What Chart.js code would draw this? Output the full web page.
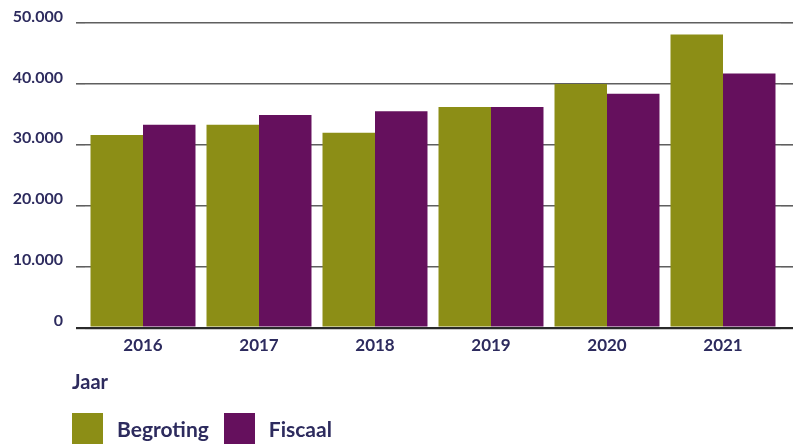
<!DOCTYPE html>
<html>
<head>
<meta charset="utf-8">
<title>Begroting en Fiscaal per jaar</title>
<script src="https://cdn.jsdelivr.net/npm/chart.js@4.4.1/dist/chart.umd.min.js"></script>
<style>
  html, body { margin: 0; padding: 0; background: #fff; overflow: hidden; }
  #wrap { position: relative; width: 800px; height: 444px; }
  #jaar { position: absolute; left: 72px; top: 369px; font: bold 20px Lato, sans-serif; color: #2d2b5e; }
  #legend { position: absolute; left: 72px; top: 413px; display: flex; align-items: center; }
  .item { display: flex; align-items: center; margin-right: 15px; }
  .swatch { width: 31px; height: 31px; margin-right: 14px; }
  .label { font: bold 21px Lato, sans-serif; color: #2d2b5e; }
</style>
</head>
<body>
<div id="wrap">
  <canvas id="chart"></canvas>
  <div id="jaar">Jaar</div>
  <div id="legend"></div>
</div>
<script>
// Data
const years = ['2016', '2017', '2018', '2019', '2020', '2021'];
const begroting = [31600, 33300, 32000, 36200, 40000, 48100];
const fiscaal = [33300, 34900, 35500, 36200, 38400, 41700];
const yTicks = [0, 10000, 20000, 30000, 40000, 50000];

const navy = '#2d2b5e';
const olive = '#8c8e16';
const purple = '#65105d';

Chart.defaults.font.family = 'Lato';
Chart.defaults.font.weight = 'bold';
Chart.defaults.color = navy;

function fmt(v) {
  return String(v).replace(/\B(?=(\d{3})+(?!\d))/g, '.');
}

const gridColor = (c) => (c.tick && c.tick.value === 0 ? '#2a2a2a' : '#5f5f5f');
const gridWidth = (c) => (c.tick && c.tick.value === 0 ? 2.2 : 1.6);

const chart = new Chart(document.getElementById('chart'), {
  type: 'bar',
  data: {
    labels: years,
    datasets: [
      { label: 'Begroting', data: begroting, backgroundColor: olive, categoryPercentage: 0.905, barPercentage: 1.0 },
      { label: 'Fiscaal', data: fiscaal, backgroundColor: purple, categoryPercentage: 0.905, barPercentage: 1.0 }
    ]
  },
  options: {
    responsive: true,
    maintainAspectRatio: false,
    animation: false,
    layout: { padding: { top: 23, right: 7, bottom: 80, left: 0 } },
    plugins: { legend: { display: false }, tooltip: { enabled: false } },
    scales: {
      x: {
        grid: { display: false, drawTicks: false },
        border: { display: false },
        ticks: { padding: 8, font: { size: 17, weight: 'bold' }, color: navy }
      },
      y: {
        min: 0,
        max: 50000,
        afterBuildTicks: (s) => { s.ticks = yTicks.map(v => ({ value: v })); },
        afterFit: (s) => { s.width = 85; s.paddingTop = 0; s.paddingBottom = 0; },
        grid: { color: gridColor, lineWidth: gridWidth, tickLength: 9, drawTicks: true },
        border: { display: false },
        ticks: { padding: 13, labelOffset: -6.5, font: { size: 16, weight: 'bold' }, color: navy, callback: (v) => fmt(v) }
      },
      y2: {
        position: 'right',
        min: 0,
        max: 50000,
        afterBuildTicks: (s) => { s.ticks = yTicks.map(v => ({ value: v })); },
        afterFit: (s) => { s.width = 12; s.paddingTop = 0; s.paddingBottom = 0; },
        grid: { drawOnChartArea: false, color: gridColor, lineWidth: gridWidth, tickLength: 12 },
        border: { display: false },
        ticks: { display: false }
      }
    }
  }
});

// legend built from the datasets
const legend = document.getElementById('legend');
chart.data.datasets.forEach(ds => {
  const item = document.createElement('div');
  item.className = 'item';
  item.innerHTML = `<span class="swatch" style="background:${ds.backgroundColor}"></span><span class="label">${ds.label}</span>`;
  legend.appendChild(item);
});
</script>
</body>
</html>
